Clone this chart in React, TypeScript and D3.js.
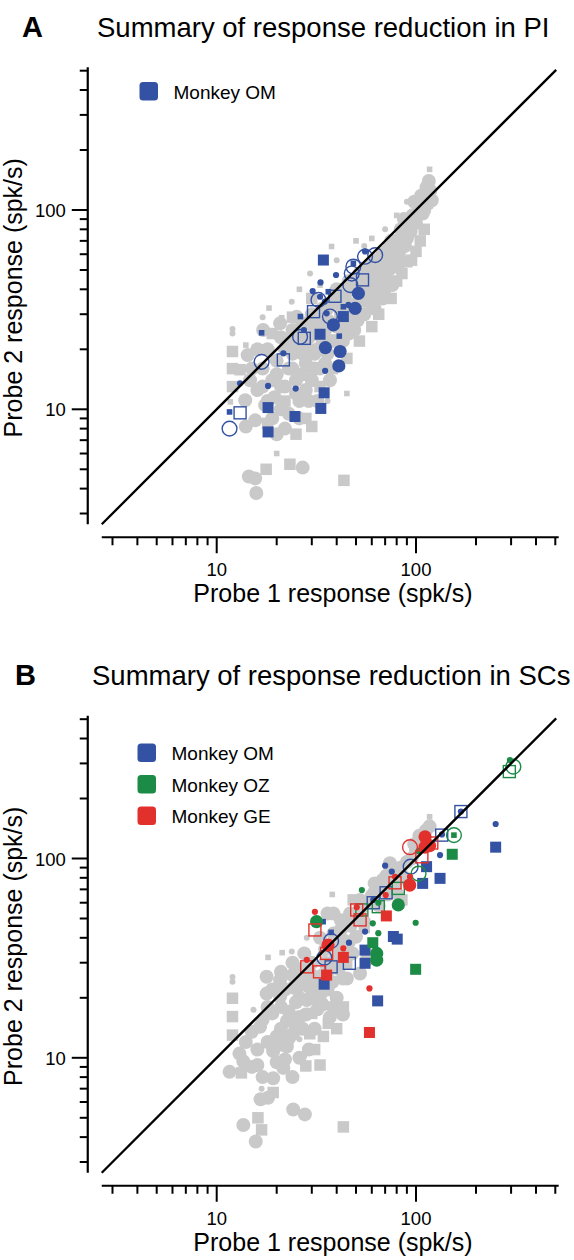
import React from 'react';
import * as d3 from 'd3';

type P = [number, number];

// ---------------- Panel A (PI) ----------------
// Monkey OM
const omA_dots: P[] = [[51.4, 38.2], [49.5, 32.1], [38.5, 26.5], [35.1, 20.4], [41.6, 19.5], [41, 16.5]];
const omA_smallDots: P[] = [[39.7, 47.2], [55.5, 62], [35.6, 30.3], [33.2, 43.3], [30.3, 39.2], [45.8, 33.4], [27.4, 25], [21.6, 19.1], [35, 15.6], [18.1, 13.1], [24.9, 12.7], [13.1, 13.5], [33, 36.7], [34.9, 34.7]];
const omA_squares: P[] = [[34.3, 56.1], [43.2, 29.2], [33, 23.8], [34.6, 12.1], [33.3, 10.1], [18.1, 10.2], [24.7, 9.2], [18.1, 7.7]];
const omA_smallSquares: P[] = [[48.5, 54], [36.3, 38.9], [43.2, 32.7], [41.2, 23.3], [16.8, 24.2], [11.6, 9.7], [26.3, 29.2]];
const omA_rings: P[] = [[48.5, 52], [55.5, 58.3], [62.4, 59.4], [47.6, 48], [46.8, 42], [37, 29.2], [32.4, 35.4], [26.2, 23.1], [16.8, 17.3], [11.6, 8.0]];
const omA_boxes: P[] = [[53.9, 44.6], [39.2, 36.9], [30.6, 30.9], [27.5, 22.7], [21.6, 17.7], [13.1, 9.6]];

// Background population (gray)
const grayA_dots: P[] = [[14.3, 18.7], [14.7, 14], [13.9, 11.1], [15.6, 8.8], [16, 12.5], [17, 16], [18, 20], [17.5, 10.5], [19, 14], [20, 17.5], [19.5, 11.5], [21, 13], [22, 20], [21, 23], [23, 16], [24, 19], [25, 14], [26, 11], [24, 25], [26, 21], [27, 27], [28, 17], [29, 23], [30, 14], [30, 30], [31, 19], [32, 26], [34, 32], [35, 17], [36, 28], [37, 22], [38, 34], [40, 26], [40, 40], [42, 30], [43, 22], [44, 36], [46, 44], [47, 28], [49, 25], [50, 40], [52, 48], [54, 36], [55, 30], [57, 52], [58, 42], [60, 34], [62, 56], [64, 46], [66, 40], [68, 60], [70, 50], [72, 44], [74, 66], [76, 56], [80, 70], [82, 60], [86, 76], [88, 66], [92, 84], [96, 94], [100, 86], [104, 104], [108, 96], [112, 118], [116, 140], [115, 108], [20, 7.5], [23, 9.5], [15.6, 4.5], [15.8, 3.8], [14.5, 4.6], [27, 5.1], [17.1, 25], [20.8, 27], [25.2, 29.1], [28, 12.5], [32, 11],
  [15, 16], [16, 20], [17, 13], [18, 11], [19, 9], [20, 15], [21, 10], [22, 13], [23, 22], [22, 8], [24, 16], [25, 12], [26, 9], [26, 24], [27, 19], [27, 15], [28, 21], [29, 11], [29, 27], [31, 16], [31, 24], [32, 20], [33, 28], [33, 16], [34, 22], [35, 25], [36, 19], [36, 32], [37, 14], [38, 27], [39, 22], [39, 38], [41, 34], [42, 26], [43, 40], [44, 32], [45, 28], [46, 24], [48, 30], [48, 40], [50, 34], [51, 28], [53, 42], [55, 35], [56, 46], [58, 38], [59, 48], [61, 42], [62, 50], [64, 36], [65, 54], [67, 46], [69, 56], [71, 62], [73, 50], [75, 70], [78, 62], [79, 52], [83, 66], [84, 80], [87, 90], [90, 72], [94, 78], [98, 110], [102, 96], [106, 118], [110, 100], [113, 130], [120, 112], [118, 125], [62, 32], [68, 36], [76, 42], [14, 8.2]];
const grayA_squares: P[] = [[12, 19.5], [12, 16], [12, 13], [13.1, 15.8], [17.7, 5], [23.3, 5.3], [43.5, 4.4], [18, 8.5], [22, 11], [28, 9], [33, 13], [38, 16], [45, 18], [52, 22], [60, 26], [65, 30], [75, 36], [85, 48], [95, 56], [105, 70], [100, 62], [30, 36], [19, 24], [24, 29], [110, 80], [70, 40], [80, 44], [90, 55], [25, 7.5], [30, 8.2], [82, 52]];
const grayA_smallDots: P[] = [[12, 25.3], [12, 24], [29.4, 48], [23.8, 34.6], [17, 29], [40, 56], [55, 66], [70, 80], [90, 110], [16, 9], [36, 11]];
const grayA_smallSquares: P[] = [[18.3, 32.2], [21.2, 28.8], [37.7, 65.6], [11.7, 10.9], [117, 160], [50, 70], [60, 72], [80, 94], [14, 21], [26, 40], [33, 42], [45, 12], [110, 125], [20, 6]];

// ---------------- Panel B (SCs) ----------------
// Monkey OM
const omB_smallDots: P[] = [[251, 149], [132, 104], [70, 92], [75.6, 86], [61, 62], [55.5, 43], [46.1, 37.8], [168, 172], [135, 132]];
const omB_squares: P[] = [[251, 114], [132, 79.5], [108, 75], [113, 91], [77, 40.6], [80.5, 39.4], [55.5, 34.7], [55.5, 29.8], [34.6, 23.4], [64.2, 19.3]];
const omB_smallSquares: P[] = [[37.5, 42.6], [34.2, 48.2]];
const omB_rings: P[] = [[94, 91], [37.5, 38.6], [34.7, 31.8]];
const omB_boxes: P[] = [[168, 172], [134.6, 131], [70.8, 67.3], [61, 60], [37.5, 28.6], [46.3, 29.8]];
// Monkey OZ
const ozB_dots: P[] = [[81.5, 58.5], [63.5, 33.4], [63.5, 30.9], [31.7, 48.2]];
const ozB_smallDots: P[] = [[296, 312], [53.5, 69.5], [64.7, 60], [60.7, 47.3], [99.6, 47.6], [64.7, 42.2], [103, 109]];
const ozB_squares: P[] = [[152, 105], [60.7, 37.8], [99.6, 27.8]];
const ozB_smallSquares: P[] = [[155, 131]];
const ozB_rings: P[] = [[308, 289], [155, 131], [103, 84]];
const ozB_boxes: P[] = [[294, 273], [81.5, 70.8], [64.7, 57.3], [53.5, 55.2]];
// Monkey GE
const geB_dots: P[] = [[111, 128.5], [111, 114], [117, 116], [93, 73.6], [36.2, 36.8]];
const geB_smallDots: P[] = [[93.3, 81], [78.5, 81], [70.5, 65.6], [31.1, 54], [43.2, 35.4], [28.3, 31], [58.4, 22.3], [50.4, 57]];
const geB_squares: P[] = [[71, 51.5], [43.2, 31.9], [35.6, 26], [58.4, 13.4]];
const geB_rings: P[] = [[93.3, 114]];
const geB_boxes: P[] = [[120, 119.6], [107, 102], [78.5, 75.5], [50.4, 55.2], [52.4, 49.2], [31.1, 43.8], [35.6, 33.4], [28.3, 28.6], [32.8, 27]];

// Background population (gray)
const grayB_dots: P[] = [[38.5, 53], [17.8, 25.5], [20.8, 24.5], [25, 26], [29, 25], [37, 28], [43, 25], [17.8, 21], [20.8, 20.3], [24.2, 22.5], [28.3, 19.5], [33, 21], [38.5, 18], [19, 16.7], [22.5, 15.3], [26, 16], [16.5, 14.3], [20, 12.8], [24.2, 13.2], [22.5, 11.4], [19.2, 10.8], [11.6, 8.5], [13.6, 9.6], [16, 9.2], [21.6, 8.9], [19.2, 7.9], [18.1, 6.3], [16.6, 6.2], [24.2, 5.5], [27.7, 5.2], [13.6, 4.6], [15.7, 3.8], [117, 145], [74, 94.6], [71, 82], [62, 75], [69, 72], [80, 67], [60, 65], [52.4, 62], [46.7, 53], [42, 49], [36, 53], [38.5, 42], [43, 39], [50, 40.5], [48, 33.4], [56.6, 31], [52.4, 26.5], [45, 25], [33, 40], [27.5, 33.4], [21, 27], [29, 22.7], [33, 20.5], [43, 16.5], [30, 30], [35, 35], [24, 30], [26, 20], [100, 110], [95, 100], [108, 125],
  [13, 10.5], [14, 12], [15, 9], [15, 13.5], [16, 11], [17, 15.5], [17, 8], [18, 12], [18, 18], [19, 22], [20, 9.5], [21, 14], [21, 18], [22, 22], [22, 9.8], [23, 17], [23, 12.5], [24, 26], [24, 8], [25, 14.5], [25, 19], [26, 10], [26, 23], [27, 28], [27, 14], [28, 16.5], [29, 11], [30, 20], [30, 26], [31, 14], [32, 24], [32, 17.5], [34, 18.5], [34, 26], [35, 30], [36, 22], [37, 16], [38, 24], [39, 31], [40, 20], [40, 36], [41, 28], [42, 44], [44, 32], [46, 38], [47, 46], [50, 50], [53, 56], [55, 48], [58, 60], [62, 68], [65, 58], [68, 78], [72, 66], [76, 86], [78, 74], [84, 90], [88, 80], [90, 96], [98, 118], [104, 130], [112, 138]];
const grayB_squares: P[] = [[48.4, 62], [44.9, 29.8], [43.2, 18], [30, 16.7], [36.3, 14.9], [29.3, 13.2], [34.3, 12.8], [13.3, 8.4], [28, 9.1], [33, 9.2], [19.2, 6.7], [16.1, 5.0], [16.8, 4.35], [43.2, 4.5], [12, 19.9], [12, 16.1], [12, 13], [85, 62], [55, 45], [40, 14], [31, 11], [20, 11.5]];
const grayB_smallDots: P[] = [[28.3, 40], [15.3, 17.4], [26, 12.4], [16.8, 7], [12, 25.4], [12, 24.1], [23.8, 34.1]];
const grayB_smallSquares: P[] = [[38, 66], [18.1, 31.9], [21.3, 33.7], [13.6, 11.6], [27.5, 10.3], [117, 162]];

// ---------------- Axes ----------------
const minorTicks = [3, 4, 5, 6, 7, 8, 9, 20, 30, 40, 50, 60, 70, 80, 90, 200, 300, 400, 500];
const majorTicks = [10, 100];
const majorTickLabels = ['10', '100'];
const axisExtent = [2.65, 520];
const identityExtent = [2.65, 505];

const monkeysA = ['Monkey OM'];
const monkeysB = ['Monkey OM', 'Monkey OZ', 'Monkey GE'];

const FONT = "'Liberation Sans', Arial, Helvetica, sans-serif";
const BLUE = '#3452a3';
const GREEN = '#1b8b45';
const RED = '#e2302c';
const GRAY = '#c9c9c9';

type Kind = 'dot' | 'smallDot' | 'square' | 'smallSquare' | 'ring' | 'box';
type Group = { data: P[]; kind: Kind; color: string; gray?: boolean };

function Marker({ cx, cy, kind, color, gray }: { cx: number; cy: number; kind: Kind; color: string; gray?: boolean }) {
  const big = gray ? 7 : 6.6;
  const sq = gray ? 11.5 : 11;
  switch (kind) {
    case 'dot':
      return <circle cx={cx} cy={cy} r={big} fill={color} />;
    case 'smallDot':
      return <circle cx={cx} cy={cy} r={gray ? 3 : 3.1} fill={color} />;
    case 'square':
      return <rect x={cx - sq / 2} y={cy - sq / 2} width={sq} height={sq} fill={color} />;
    case 'smallSquare':
      return <rect x={cx - 2.8} y={cy - 2.8} width={5.6} height={5.6} fill={color} />;
    case 'ring':
      return <circle cx={cx} cy={cy} r={7.4} fill="none" stroke={color} strokeWidth={1.4} />;
    case 'box':
      return <rect x={cx - 6} y={cy - 6} width={12} height={12} fill="none" stroke={color} strokeWidth={1.4} />;
  }
  return null;
}

function Panel({ oy, letter, letterX, title, titleX, groups, legend, legendColors, legendX, legendY }: {
  oy: number; letter: string; letterX: number; title: string; titleX: number; groups: Group[]; legend: string[]; legendColors: string[]; legendX: number; legendY: number;
}) {
  const x = d3.scaleLog().domain([10, 100]).range([216.7, 416]);
  const y = d3.scaleLog().domain([10, 100]).range([409.3 + oy, 210 + oy]);
  const xAxisY = y(axisExtent[0]) + 13;
  const yAxisX = x(axisExtent[0]) - 14;
  const line = d3.line<number>().x((v) => x(v)).y((v) => y(v));
  return (
    <g>
      <text x={letterX} y={36.5 + oy} fontFamily={FONT} fontWeight="bold" fontSize={29}>{letter}</text>
      <text x={titleX} y={36.5 + oy} fontFamily={FONT} fontSize={27.5}>{title}</text>

      {/* y axis */}
      <line x1={yAxisX} x2={yAxisX} y1={y(axisExtent[0])} y2={y(axisExtent[1])} stroke="#000" strokeWidth={2.2} />
      {minorTicks.map((t) => (
        <line key={'ym' + t} x1={yAxisX - 8} x2={yAxisX} y1={y(t)} y2={y(t)} stroke="#000" strokeWidth={2} />
      ))}
      {majorTicks.map((t, i) => (
        <g key={'yM' + t}>
          <line x1={yAxisX - 16} x2={yAxisX} y1={y(t)} y2={y(t)} stroke="#000" strokeWidth={2} />
          <text x={yAxisX - 22} y={y(t) + 7} textAnchor="end" fontFamily={FONT} fontSize={18.5}>{majorTickLabels[i]}</text>
        </g>
      ))}
      <text transform={`translate(22,${y(Math.sqrt(axisExtent[0] * axisExtent[1])) + 2}) rotate(-90)`} textAnchor="middle" fontFamily={FONT} fontSize={25}>Probe 2 response (spk/s)</text>

      {/* x axis */}
      <line x1={x(axisExtent[0])} x2={x(axisExtent[1])} y1={xAxisY} y2={xAxisY} stroke="#000" strokeWidth={2.2} />
      {minorTicks.map((t) => (
        <line key={'xm' + t} x1={x(t)} x2={x(t)} y1={xAxisY} y2={xAxisY + 8} stroke="#000" strokeWidth={2} />
      ))}
      {majorTicks.map((t, i) => (
        <g key={'xM' + t}>
          <line x1={x(t)} x2={x(t)} y1={xAxisY} y2={xAxisY + 16} stroke="#000" strokeWidth={2} />
          <text x={x(t)} y={xAxisY + 39} textAnchor="middle" fontFamily={FONT} fontSize={18.5}>{majorTickLabels[i]}</text>
        </g>
      ))}
      <text x={333} y={xAxisY + 65} textAnchor="middle" fontFamily={FONT} fontSize={25}>Probe 1 response (spk/s)</text>

      {/* data */}
      {groups.map((g, gi) => (
        <g key={'g' + gi}>
          {g.data.map((d, i) => (
            <Marker key={i} cx={x(d[0])} cy={y(d[1])} kind={g.kind} color={g.color} gray={g.gray} />
          ))}
        </g>
      ))}

      {/* identity line */}
      <path d={line(identityExtent) || ''} stroke="#000" strokeWidth={2.3} fill="none" />

      {/* legend */}
      {legend.map((name, i) => (
        <g key={name}>
          <rect x={legendX} y={legendY + oy + i * 31.5} width={18.5} height={18.5} rx={3.5} fill={legendColors[i]} />
          <text x={legendX + 34} y={legendY + oy + i * 31.5 + 16.5} fontFamily={FONT} fontSize={19}>{name}</text>
        </g>
      ))}
    </g>
  );
}

export default function App() {
  const groupsA: Group[] = [
    { data: grayA_dots, kind: 'dot', color: GRAY, gray: true },
    { data: grayA_squares, kind: 'square', color: GRAY, gray: true },
    { data: grayA_smallDots, kind: 'smallDot', color: GRAY, gray: true },
    { data: grayA_smallSquares, kind: 'smallSquare', color: GRAY, gray: true },
    { data: omA_dots, kind: 'dot', color: BLUE },
    { data: omA_squares, kind: 'square', color: BLUE },
    { data: omA_smallDots, kind: 'smallDot', color: BLUE },
    { data: omA_smallSquares, kind: 'smallSquare', color: BLUE },
    { data: omA_rings, kind: 'ring', color: BLUE },
    { data: omA_boxes, kind: 'box', color: BLUE },
  ];
  const groupsB: Group[] = [
    { data: grayB_dots, kind: 'dot', color: GRAY, gray: true },
    { data: grayB_squares, kind: 'square', color: GRAY, gray: true },
    { data: grayB_smallDots, kind: 'smallDot', color: GRAY, gray: true },
    { data: grayB_smallSquares, kind: 'smallSquare', color: GRAY, gray: true },
    { data: omB_squares, kind: 'square', color: BLUE },
    { data: omB_smallDots, kind: 'smallDot', color: BLUE },
    { data: omB_smallSquares, kind: 'smallSquare', color: BLUE },
    { data: omB_rings, kind: 'ring', color: BLUE },
    { data: omB_boxes, kind: 'box', color: BLUE },
    { data: ozB_dots, kind: 'dot', color: GREEN },
    { data: ozB_squares, kind: 'square', color: GREEN },
    { data: ozB_smallDots, kind: 'smallDot', color: GREEN },
    { data: ozB_smallSquares, kind: 'smallSquare', color: GREEN },
    { data: ozB_rings, kind: 'ring', color: GREEN },
    { data: ozB_boxes, kind: 'box', color: GREEN },
    { data: geB_dots, kind: 'dot', color: RED },
    { data: geB_squares, kind: 'square', color: RED },
    { data: geB_smallDots, kind: 'smallDot', color: RED },
    { data: geB_rings, kind: 'ring', color: RED },
    { data: geB_boxes, kind: 'box', color: RED },
  ];
  return (
    <svg width={574} height={1260} viewBox="0 0 574 1260" style={{ position: 'absolute', left: 0, top: 0, background: '#fff' }}>
      <rect width={574} height={1260} fill="#fff" />
      <Panel oy={0} letter="A" letterX={22} title="Summary of response reduction in PI" titleX={97} groups={groupsA} legend={monkeysA} legendColors={[BLUE]} legendX={139.5} legendY={82} />
      <Panel oy={648.5} letter="B" letterX={15} title="Summary of response reduction in SCs" titleX={92} groups={groupsB} legend={monkeysB} legendColors={[BLUE, GREEN, RED]} legendX={137.5} legendY={95} />
    </svg>
  );
}
